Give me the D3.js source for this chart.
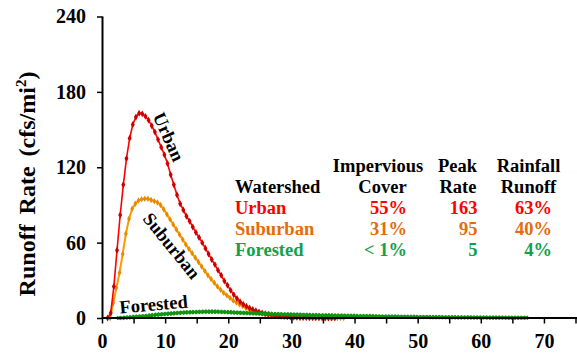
<!DOCTYPE html>
<html>
<head>
<meta charset="utf-8">
<script src="https://cdn.jsdelivr.net/npm/d3@7"></script>
<style>
  body { margin: 0; background: #fff; }
  svg { display: block; }
  text { font-family: "Liberation Serif", "Times New Roman", serif; font-weight: bold; }
</style>
</head>
<body>
<svg id="chart" width="577" height="354"></svg>
<script>
// Hydrograph samples: runoff rate (cfs/mi²) every half minute
const sampleStep = 0.5;

const urbanStart = 0.8;
const urbanValues = [
  0, 4, 25, 54, 82, 106, 127, 143, 154, 160,
  163, 162.5, 160.5, 157.5, 153, 148, 142, 136, 130, 123,
  114, 106, 98, 91, 86, 81, 77, 72.5, 68, 64,
  60, 55.5, 51, 46.5, 42.5, 38, 34, 29.5, 26, 22,
  18.5, 15.5, 13, 11, 9.3, 7.9, 6.7, 5.7, 4.8, 4.0,
  3.4, 2.9, 2.4, 2.0, 1.6, 1.3, 1.1, 0.9, 0.7, 0.6,
  0.5, 0.4, 0.3, 0.3, 0.2, 0.2, 0.1, 0.1, 0.1, 0,
  0, 0, 0
];

const suburbanStart = 1.2;
const suburbanValues = [
  0, 12, 24, 36, 51, 67, 79, 87, 91, 93.5,
  94.5, 95, 95, 94, 93, 92, 90, 86.5, 82.5, 78.5,
  74.5, 70.5, 66.5, 62.5, 58.5, 55, 51.5, 48, 44.5, 41,
  37.5, 34, 31, 28, 25, 22.5, 20, 18, 16, 14,
  12.3, 10.8, 9.5, 8.2, 7, 6, 5.2, 4.4, 3.7, 3.1,
  2.6, 2.2, 1.8, 1.5, 1.3, 1.1, 0.9, 0.8, 0.7, 0.6,
  0.5, 0.4, 0.4, 0.3, 0.3, 0.2, 0.2, 0.2, 0.1, 0.1,
  0.1, 0.1, 0, 0, 0
];

const forestedStart = 2.6;
const forestedValues = [
  0, 0.1, 0.3, 0.5, 0.7, 0.9, 1.1, 1.3, 1.5, 1.7,
  2.0, 2.3, 2.6, 2.8, 3.1, 3.3, 3.5, 3.7, 3.9, 4.1,
  4.3, 4.4, 4.5, 4.6, 4.7, 4.8, 4.9, 5.0, 5.0, 5.0,
  5.0, 5.0, 4.9, 4.8, 4.7, 4.6, 4.5, 4.3, 4.2, 4.1,
  4.0, 3.9, 3.8, 3.7, 3.6, 3.5, 3.4, 3.3, 3.2, 3.1,
  3.0, 3.0, 2.9, 2.8, 2.8, 2.7, 2.6, 2.6, 2.5, 2.4,
  2.4, 2.3, 2.3, 2.2, 2.1, 2.1, 2.0, 2.0, 1.9, 1.9,
  1.8, 1.8, 1.7, 1.7, 1.6, 1.6, 1.5, 1.5, 1.4, 1.4,
  1.4, 1.3, 1.3, 1.2, 1.2, 1.2, 1.1, 1.1, 1.1, 1.0,
  1.0, 1.0, 0.9, 0.9, 0.9, 0.8, 0.8, 0.8, 0.8, 0.7,
  0.7, 0.7, 0.7, 0.6, 0.6, 0.6, 0.6, 0.5, 0.5, 0.5,
  0.5, 0.5, 0.4, 0.4, 0.4, 0.4, 0.4, 0.3, 0.3, 0.3,
  0.3, 0.3, 0.3, 0.2, 0.2, 0.2, 0.2, 0.2, 0.2, 0.2
];

// Axis ticks
const xTickLabels = [0, 10, 20, 30, 40, 50, 60, 70];
const xMinorTicks = d3.range(0, 76, 5);
const yTickLabels = [0, 60, 120, 180, 240];

// Summary table
const tableWatersheds = ["Urban", "Suburban", "Forested"];
const tableImpervious = ["55%", "31%", "< 1%"];
const tablePeakRate = [163, 95, 5];
const tableRainfallRunoff = ["63%", "40%", "4%"];

const series = [
  { name: "Suburban", start: suburbanStart, values: suburbanValues,
    line: "#ff9900", marker: "#e68a00", width: 2, symbol: d3.symbolDiamond, size: 12, rot: 0 },
  { name: "Urban", start: urbanStart, values: urbanValues,
    line: "#ff0000", marker: "#cc0000", width: 1.6, symbol: d3.symbolDiamond, size: 14, rot: 0 },
  { name: "Forested", start: forestedStart, values: forestedValues,
    line: "#22b022", marker: "#0f940f", width: 2, symbol: d3.symbolCross, size: 14, rot: 45 }
];
const tableColors = ["#ff0000", "#e46c0a", "#13a04a"];

const svg = d3.select("#chart");

const x = d3.scaleLinear().domain([0, 75]).range([102.5, 576]);
const y = d3.scaleLinear().domain([0, 240]).range([318, 16.5]);

// Curves with point markers
const line = d3.line().x(d => x(d.t)).y(d => y(d.v));
series.forEach(s => {
  const pts = s.values.map((v, i) => ({ t: s.start + i * sampleStep, v }));
  const g = svg.append("g");
  g.append("path")
    .datum(pts)
    .attr("d", line)
    .attr("fill", "none")
    .attr("stroke", s.line)
    .attr("stroke-width", s.width);
  const sym = d3.symbol().type(s.symbol).size(s.size);
  g.selectAll("path.m")
    .data(pts)
    .join("path")
    .attr("class", "m")
    .attr("d", sym)
    .attr("transform", d => `translate(${x(d.t)},${y(d.v)}) rotate(${s.rot})`)
    .attr("fill", s.marker);
});

// X axis
const xAxis = svg.append("g").attr("transform", `translate(0,${y(0)})`);
xAxis.append("line")
  .attr("x1", x(0)).attr("x2", 577)
  .attr("stroke", "#000").attr("stroke-width", 2);
xAxis.selectAll("line.tick")
  .data(xMinorTicks)
  .join("line")
  .attr("class", "tick")
  .attr("x1", d => x(d)).attr("x2", d => x(d))
  .attr("y1", 0).attr("y2", 5.5)
  .attr("stroke", "#000").attr("stroke-width", 1.5);
xAxis.selectAll("text")
  .data(xTickLabels)
  .join("text")
  .attr("x", d => x(d))
  .attr("y", 30)
  .attr("text-anchor", "middle")
  .attr("font-size", 20)
  .text(d => d);

// Y axis
const yAxis = svg.append("g").attr("transform", `translate(${x(0)},0)`)
  .call(d3.axisLeft(y).tickValues(yTickLabels).tickSize(5.5).tickPadding(11));
yAxis.select(".domain")
  .attr("stroke", "#000").attr("stroke-width", 2)
  .attr("d", `M0,${y(240)}V${y(0)}`);
yAxis.selectAll(".tick line").attr("stroke", "#000").attr("stroke-width", 1.5);
yAxis.selectAll(".tick text")
  .attr("font-size", 20)
  .attr("font-family", "Liberation Serif, serif")
  .attr("font-weight", "bold")
  .attr("fill", "#000");

// Y axis title
const yTitle = svg.append("text")
  .attr("transform", "translate(35,184) rotate(-90)")
  .attr("text-anchor", "middle")
  .attr("font-size", 24)
  .attr("word-spacing", 4);
yTitle.append("tspan").text("Runoff Rate (cfs/mi");
yTitle.append("tspan").attr("font-size", 15).attr("dy", -9).text("2");
yTitle.append("tspan").attr("dy", 9).text(")");

// Curve labels
const curveLabels = [
  { text: "Urban", cx: 168.5, cy: 137, angle: 66 },
  { text: "Suburban", cx: 171.5, cy: 246, angle: 51 },
  { text: "Forested", cx: 153.5, cy: 304.5, angle: -5 }
];
svg.selectAll("text.curve-label")
  .data(curveLabels)
  .join("text")
  .attr("class", "curve-label")
  .attr("transform", d => `translate(${d.cx},${d.cy}) rotate(${d.angle})`)
  .attr("text-anchor", "middle")
  .attr("dominant-baseline", "central")
  .attr("font-size", 18.5)
  .text(d => d.text);

// Table
const table = svg.append("g").attr("font-size", 18.5);
const headRow1 = 171.5, headRow2 = 193, rowY = [214, 235, 255.5];
table.append("text").attr("x", 235).attr("y", headRow2).text("Watershed");
table.append("text").attr("x", 378).attr("y", headRow1).attr("text-anchor", "middle").text("Impervious");
table.append("text").attr("x", 382.5).attr("y", headRow2).attr("text-anchor", "middle").text("Cover");
table.append("text").attr("x", 457.5).attr("y", headRow1).attr("text-anchor", "middle").text("Peak");
table.append("text").attr("x", 458).attr("y", headRow2).attr("text-anchor", "middle").text("Rate");
table.append("text").attr("x", 528.5).attr("y", headRow1).attr("text-anchor", "middle").text("Rainfall");
table.append("text").attr("x", 528.5).attr("y", headRow2).attr("text-anchor", "middle").text("Runoff");

tableWatersheds.forEach((w, i) => {
  const row = table.append("g").attr("fill", tableColors[i]);
  row.append("text").attr("x", 235).attr("y", rowY[i]).text(w);
  row.append("text").attr("x", 407).attr("y", rowY[i]).attr("text-anchor", "end").text(tableImpervious[i]);
  row.append("text").attr("x", 477.5).attr("y", rowY[i]).attr("text-anchor", "end").text(tablePeakRate[i]);
  row.append("text").attr("x", 552).attr("y", rowY[i]).attr("text-anchor", "end").text(tableRainfallRunoff[i]);
});
</script>
</body>
</html>
